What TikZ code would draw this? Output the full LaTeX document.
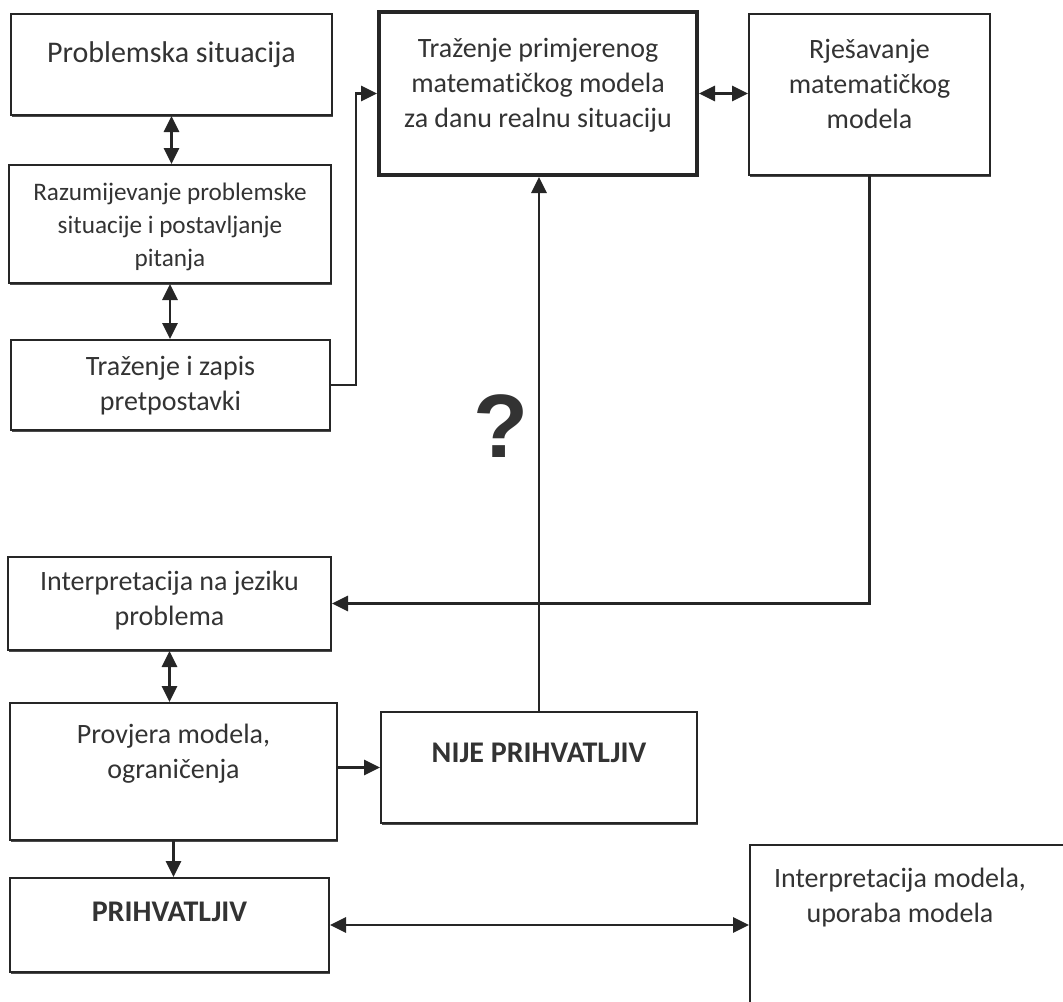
\documentclass[tikz,border=0pt]{standalone}
\usepackage{fontspec}
\setmainfont{Carlito}[RawFeature={-liga;-clig;-calt}]
\newfontfamily\qfont{Liberation Sans}
\usetikzlibrary{arrows.meta, shadows}
\tikzset{
    box/.style={draw=black!85, fill=white, line width=1pt, inner sep=0pt,
        drop shadow={shadow xshift=0.6pt, shadow yshift=-0.8pt, fill=black!70, opacity=1}},
    size/.style 2 args={minimum width=#1*0.5pt, minimum height=#2*0.5pt},
    txt/.style={align=center, text=black!80, font=\fontsize{14}{17.5}\selectfont},
    bold/.style={font=\fontsize{15}{17.5}\selectfont\bfseries},
    link/.style={draw=black!85, line width=1.4pt},
    oneway/.style={-{Triangle[length=8pt,width=7.5pt]}},
    twoway/.style={{Triangle[length=8pt,width=7.5pt]}-{Triangle[length=8pt,width=7.5pt]}}
}

\begin{document}
\begin{tikzpicture}[x=0.5pt, y=-0.5pt]
    \useasboundingbox (0,0) rectangle (1063,1001);
    % boxes
    \node[box, size={321}{101}] (pro) at (171.5,64.5) {};
    \node[box, size={322}{118}] (raz) at (170,224) {};
    \node[box, size={319}{90}] (tzp) at (170.5,385) {};
    \node[box, size={318}{163}, line width=2pt] (tpm) at (538,93.5) {};
    \node[box, size={241}{161}] (rje) at (869.5,94.5) {};
    \node[box, size={323}{93}] (ijp) at (169.5,603.5) {};
    \node[box, size={327}{137}] (prv) at (173.5,771.5) {};
    \node[box, size={316}{111}] (nij) at (539,767.5) {};
    \node[box, size={319}{94}] (prh) at (169.5,925) {};
    \node[box, size={330}{180}, drop shadow={opacity=0}] (ium) at (915,935) {};
    % texts
    \node[txt, font=\fontsize{15}{17.5}\selectfont] (pro-t) at (171.5,55) {Problemska situacija};
    \node[txt, font=\fontsize{12.6}{16.5}\selectfont] (raz-t) at (170,227) {Razumijevanje problemske\\situacije i postavljanje\\pitanja};
    \node[txt] (tzp-t) at (170.5,386) {Traženje i zapis\\pretpostavki};
    \node[txt] (tpm-t) at (538,85) {Traženje primjerenog\\matematičkog modela\\za danu realnu situaciju};
    \node[txt] (rje-t) at (869.5,84) {Rješavanje\\matematičkog\\modela};
    \node[txt] (ijp-t) at (169.5,601) {Interpretacija na jeziku\\problema};
    \node[txt] (prv-t) at (173.5,754) {Provjera modela,\\ograničenja};
    \node[txt, bold] (nij-t) at (539,753) {NIJE PRIHVATLJIV};
    \node[txt, bold] (prh-t) at (169.5,912) {PRIHVATLJIV};
    \node[txt] (ium-t) at (900,898) {Interpretacija modela,\\uporaba modela};
    \node[text=black!80, font=\fontsize{45}{50}\qfont\bfseries] (qm) at (501,426) {?};
    % connectors
    \draw[link, twoway] (pro.south) -- (pro.south |- raz.north);
    \draw[link, twoway] (raz.south) -- (raz.south |- tzp.north);
    \draw[link, oneway] (tzp.east) -- ++(25,0) |- (tpm.west);
    \draw[link, twoway] (tpm.east) -- (tpm.east -| rje.west);
    \draw[link, oneway] (rje.south) |- (ijp.east);
    \draw[link, oneway] (nij.north) -- (nij.north |- tpm.south);
    \draw[link, twoway] (ijp.south) -- (ijp.south |- prv.north);
    \draw[link, oneway] (nij.west -| prv.east) -- (nij.west);
    \draw[link, oneway] (prv.south) -- (prv.south |- prh.north);
    \draw[link, twoway] (prh.east) -- (prh.east -| ium.west);
\end{tikzpicture}
\end{document}
